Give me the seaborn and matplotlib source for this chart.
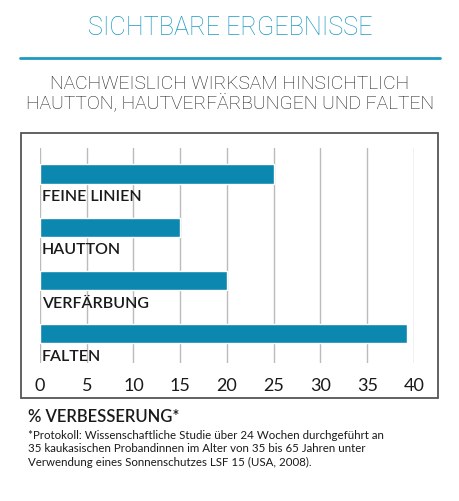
import seaborn as sns
import matplotlib.pyplot as plt
import pandas as pd
from matplotlib.patches import Rectangle
from matplotlib.lines import Line2D

# chart data
categories = ["FEINE LINIEN", "HAUTTON", "VERFÄRBUNG", "FALTEN"]
improvement = [25, 15, 20, 39.3]
x_ticks = [0, 5, 10, 15, 20, 25, 30, 35, 40]

title = "SICHTBARE ERGEBNISSE"
subtitle = "NACHWEISLICH WIRKSAM HINSICHTLICH\nHAUTTON, HAUTVERFÄRBUNGEN UND FALTEN"
xlabel = "% VERBESSERUNG*"
footnote = ("*Protokoll: Wissenschaftliche Studie über 24 Wochen durchgeführt an\n"
            "35 kaukasischen Probandinnen im Alter von 35 bis 65 Jahren unter\n"
            "Verwendung eines Sonnenschutzes LSF 15 (USA, 2008).")

bar_color = "#0b87b0"
title_color = "#1d9ac2"

sns.set_style("white")
plt.rcParams["font.family"] = ["Lato", "DejaVu Sans"]

data = pd.DataFrame({"kategorie": categories, "wert": improvement})

fig = plt.figure(figsize=(4.6, 5.02), dpi=100)
W, H = 460, 502

# axes placed in pixel terms
left, right, top, bottom = 40, 414, 149, 364
ax = fig.add_axes([left / W, 1 - bottom / H, (right - left) / W, (bottom - top) / H])

sns.barplot(data=data, x="wert", y="kategorie", orient="h", color=bar_color,
            width=0.36, saturation=1, ax=ax)

ax.set_xlim(0, 40)
ax.set_ylim(3.55, -0.49)
ax.set_xticks(x_ticks)
ax.xaxis.grid(True, color="#bbbbbb", linewidth=1)
ax.set_axisbelow(True)
for s in ax.spines.values():
    s.set_visible(False)
ax.set_yticks([])
ax.set_xlabel("")
ax.set_ylabel("")
ax.tick_params(axis="x", length=0, pad=10, labelsize=13, labelcolor="#1a1a1a")

# category labels below each bar
for i, cat in enumerate(categories):
    ax.text(0.2, i + 0.49, cat, ha="left", va="baseline", fontsize=11.5,
            color="#1a1a1a", fontweight="semibold")

# frame around chart
fig.patches.append(Rectangle((21 / W, 1 - 399 / H), (438 - 21) / W, (399 - 134) / H,
                             transform=fig.transFigure, fill=False,
                             edgecolor="#555555", linewidth=1.3))

# title and rule
light = ["Roboto", "Lato", "DejaVu Sans"]
fig.text(0.5, 1 - 28 / H, title, ha="center", va="center", fontsize=18.2,
         color=title_color, fontweight="light", family=light)
fig.add_artist(Line2D([20 / W, 440 / W], [1 - 59 / H, 1 - 59 / H],
                      transform=fig.transFigure, color=title_color, linewidth=2))
fig.text(0.5, 1 - 94 / H, subtitle, ha="center", va="center", fontsize=13.9,
         color="#1a1a1a", fontweight="light", family=light, linespacing=1.1)

fig.text(28 / W, 1 - 417 / H, xlabel, ha="left", va="center", fontsize=12,
         color="#1a1a1a", fontweight="semibold")
fig.text(28 / W, 1 - 449 / H, footnote, ha="left", va="center", fontsize=8.3,
         color="#1a1a1a", linespacing=1.3)

fig.savefig("out.png", dpi=100)
